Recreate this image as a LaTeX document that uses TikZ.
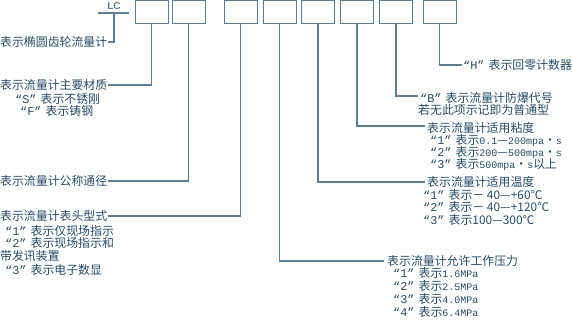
\documentclass[tikz,border=0pt]{standalone}
\usepackage{fontspec}
\setmainfont{Noto Sans CJK SC}
\newfontfamily\lcfont{Liberation Sans}
\newfontfamily\monof{Liberation Mono}
\newcommand\qtag[1]{{\monof “#1”}\hspace{4pt}}
\newcommand\latn[1]{{\monof\fontsize{10pt}{12pt}\selectfont #1}}
\definecolor{txt}{HTML}{284B64}
\definecolor{ln}{HTML}{5D7D93}
\begin{document}
\begin{tikzpicture}[x=1pt,y=-1pt,
  box/.style={draw=ln,line width=1pt,minimum width=33pt,minimum height=22.5pt,inner sep=0pt},
  lab/.style={anchor=west,inner sep=0pt,text=txt,font=\fontsize{11.9pt}{12pt}\selectfont,text height=10.5pt,text depth=1.4pt},
  conn/.style={draw=ln,line width=1.1pt}]
\useasboundingbox (0,0) rectangle (572,325);
% boxes
\node[box] (b1) at (151.5,11.8) {};
\node[box] (b2) at (188.5,11.8) {};
\node[box] (b3) at (240.5,11.8) {};
\node[box] (b4) at (279.5,11.8) {};
\node[box] (b5) at (318,11.8) {};
\node[box] (b6) at (357,11.8) {};
\node[box] (b7) at (396,11.8) {};
\node[box] (b8) at (439.5,11.8) {};
% LC
\node[inner sep=0pt,text=ln,font=\lcfont\bfseries\fontsize{10pt}{10pt}\selectfont] (lc) at (114,6) {LC};
\coordinate (lcL) at (98,13);
\coordinate (lcR) at (129,13);
\coordinate (lcM) at (114,13);
% left labels
\node[lab] (l1) at (0,42) {表示椭圆齿轮流量计};
\node[lab] (l2) at (0,85) {表示流量计主要材质};
\node[lab] (l2a) at (15,99) {\qtag{S}表示不锈刚};
\node[lab] (l2b) at (20,111) {\qtag{F}表示铸钢};
\node[lab] (l3) at (0,181) {表示流量计公称通径};
\node[lab] (l4) at (0,216) {表示流量计表头型式};
\node[lab] (l4a) at (5,231) {\qtag{1}表示仅现场指示};
\node[lab] (l4b) at (5,243) {\qtag{2}表示现场指示和};
\node[lab] (l4c) at (0,256) {带发讯装置};
\node[lab] (l4d) at (5,270) {\qtag{3}表示电子数显};
% right labels
\node[lab] (l5) at (387,261) {表示流量计允许工作压力};
\node[lab] (l5a) at (393,273) {\qtag{1}表示\latn{1.6MPa}};
\node[lab] (l5b) at (393,286) {\qtag{2}表示\latn{2.5MPa}};
\node[lab] (l5c) at (393,299) {\qtag{3}表示\latn{4.0MPa}};
\node[lab] (l5d) at (393,312) {\qtag{4}表示\latn{6.4MPa}};
\node[lab] (l6) at (427,182) {表示流量计适用温度};
\node[lab] (l6a) at (423,195) {\qtag{1}表示－ 40—+60℃};
\node[lab] (l6b) at (423,207) {\qtag{2}表示－ 40—+120℃};
\node[lab] (l6c) at (423,220) {\qtag{3}表示100—300℃};
\node[lab] (l7) at (427,128) {表示流量计适用粘度};
\node[lab] (l7a) at (430,140) {\qtag{1}表示\latn{0.1}—\latn{200mpa}·\latn{s}};
\node[lab] (l7b) at (430,152) {\qtag{2}表示\latn{200}—\latn{500mpa}·\latn{s}};
\node[lab] (l7c) at (430,164) {\qtag{3}表示\latn{500mpa}·\latn{s}以上};
\node[lab] (l8) at (420,98) {\qtag{B}表示流量计防爆代号};
\node[lab] (l8a) at (418,110) {若无此项示记即为普通型};
\node[lab] (l9) at (463,65) {\qtag{H}表示回零计数器};
% connectors
\draw[conn] (lcL) -- (lcR);
\draw[conn] (lcM) |- (l1.east);
\draw[conn] (b1.south) |- (l2.east);
\draw[conn] (b2.south) |- (l3.east);
\draw[conn] (b3.south) |- (l4.east);
\draw[conn] (b4.south) |- ([xshift=-3pt]l5.west);
\draw[conn] (b5.south) |- ([xshift=-2pt]l6.west);
\draw[conn] (b6.south) |- ([xshift=-2pt,yshift=2pt]l7.west);
\draw[conn] (b7.south) |- ([xshift=-2pt,yshift=2pt]l8.west);
\draw[conn] (b8.south) |- ([xshift=-1pt]l9.west);
\end{tikzpicture}
\end{document}
